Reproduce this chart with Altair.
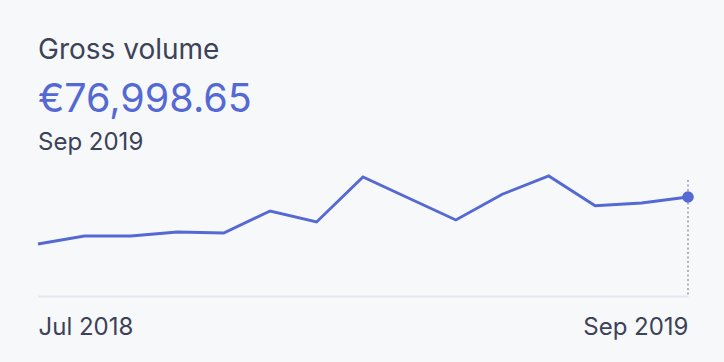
import altair as alt
import pandas as pd

months = ["Jul 2018", "Aug 2018", "Sep 2018", "Oct 2018", "Nov 2018", "Dec 2018",
          "Jan 2019", "Feb 2019", "Mar 2019", "Apr 2019", "May 2019", "Jun 2019",
          "Jul 2019", "Aug 2019", "Sep 2019"]
volume = [40450, 46680, 46680, 49790, 49010, 66130, 57570, 92580, 75850, 59130,
          79120, 93360, 70250, 72350, 76998.65]

title_text = "Gross volume"
period_text = "Sep 2019"
value_text = "€{:,.2f}".format(volume[-1])

BG = "#f7f8fa"
INK = "#3c4257"
BLUE = "#5469d4"
FONT = "Inter"

df = pd.DataFrame({"month": months, "volume": volume})
last = df.tail(1)

x_enc = alt.X("month:O", sort=months,
              scale=alt.Scale(type="point", padding=0),
              axis=alt.Axis(values=[months[0], months[-1]], labelAngle=0,
                            labelAlign={"condition": {"test": "datum.value == '%s'" % months[0],
                                                      "value": "left"},
                                        "value": "right"},
                            ticks=False, tickSize=0, grid=False, title=None,
                            domainColor="#e3e6ee", domainWidth=2,
                            labelColor=INK, labelFont=FONT, labelFontSize=24,
                            labelBaseline="alphabetic", labelPadding=38))
y_enc = alt.Y("volume:Q", scale=alt.Scale(domain=[0, 98000], nice=False, zero=True),
              axis=None)

line = alt.Chart(df).mark_line(color=BLUE, strokeWidth=2.9, strokeJoin="miter").encode(x=x_enc, y=y_enc)

rule = alt.Chart(last).mark_rule(color="#a3acb9", strokeDash=[2, 2.5], strokeWidth=1.8).encode(
    x=alt.X("month:O", sort=months), y=alt.value(10), y2=alt.value(126))

dot = alt.Chart(last).mark_circle(color=BLUE, size=135, opacity=1).encode(
    x=alt.X("month:O", sort=months), y=y_enc)

hdr = pd.DataFrame({"t": [title_text], "v": [value_text], "p": [period_text]})
t1 = alt.Chart(hdr).mark_text(align="left", baseline="alphabetic", font=FONT, fontSize=28,
                              color=INK).encode(text="t:N", x=alt.value(0), y=alt.value(-111))
t2 = alt.Chart(hdr).mark_text(align="left", baseline="alphabetic", font=FONT, fontSize=39.5,
                              color=BLUE).encode(text="v:N", x=alt.value(0), y=alt.value(-58))
t3 = alt.Chart(hdr).mark_text(align="left", baseline="alphabetic", font=FONT, fontSize=24,
                              color=INK).encode(text="p:N", x=alt.value(0), y=alt.value(-20))

chart = alt.layer(rule, line, dot, t1, t2, t3).properties(
    width=650, height=126, background=BG,
    autosize=alt.AutoSizeParams(type="none"),
    padding={"left": 38, "right": 36, "top": 170, "bottom": 66},
).configure_view(stroke=None)

chart.save("out.html", embed_options={"renderer": "svg", "actions": False})
